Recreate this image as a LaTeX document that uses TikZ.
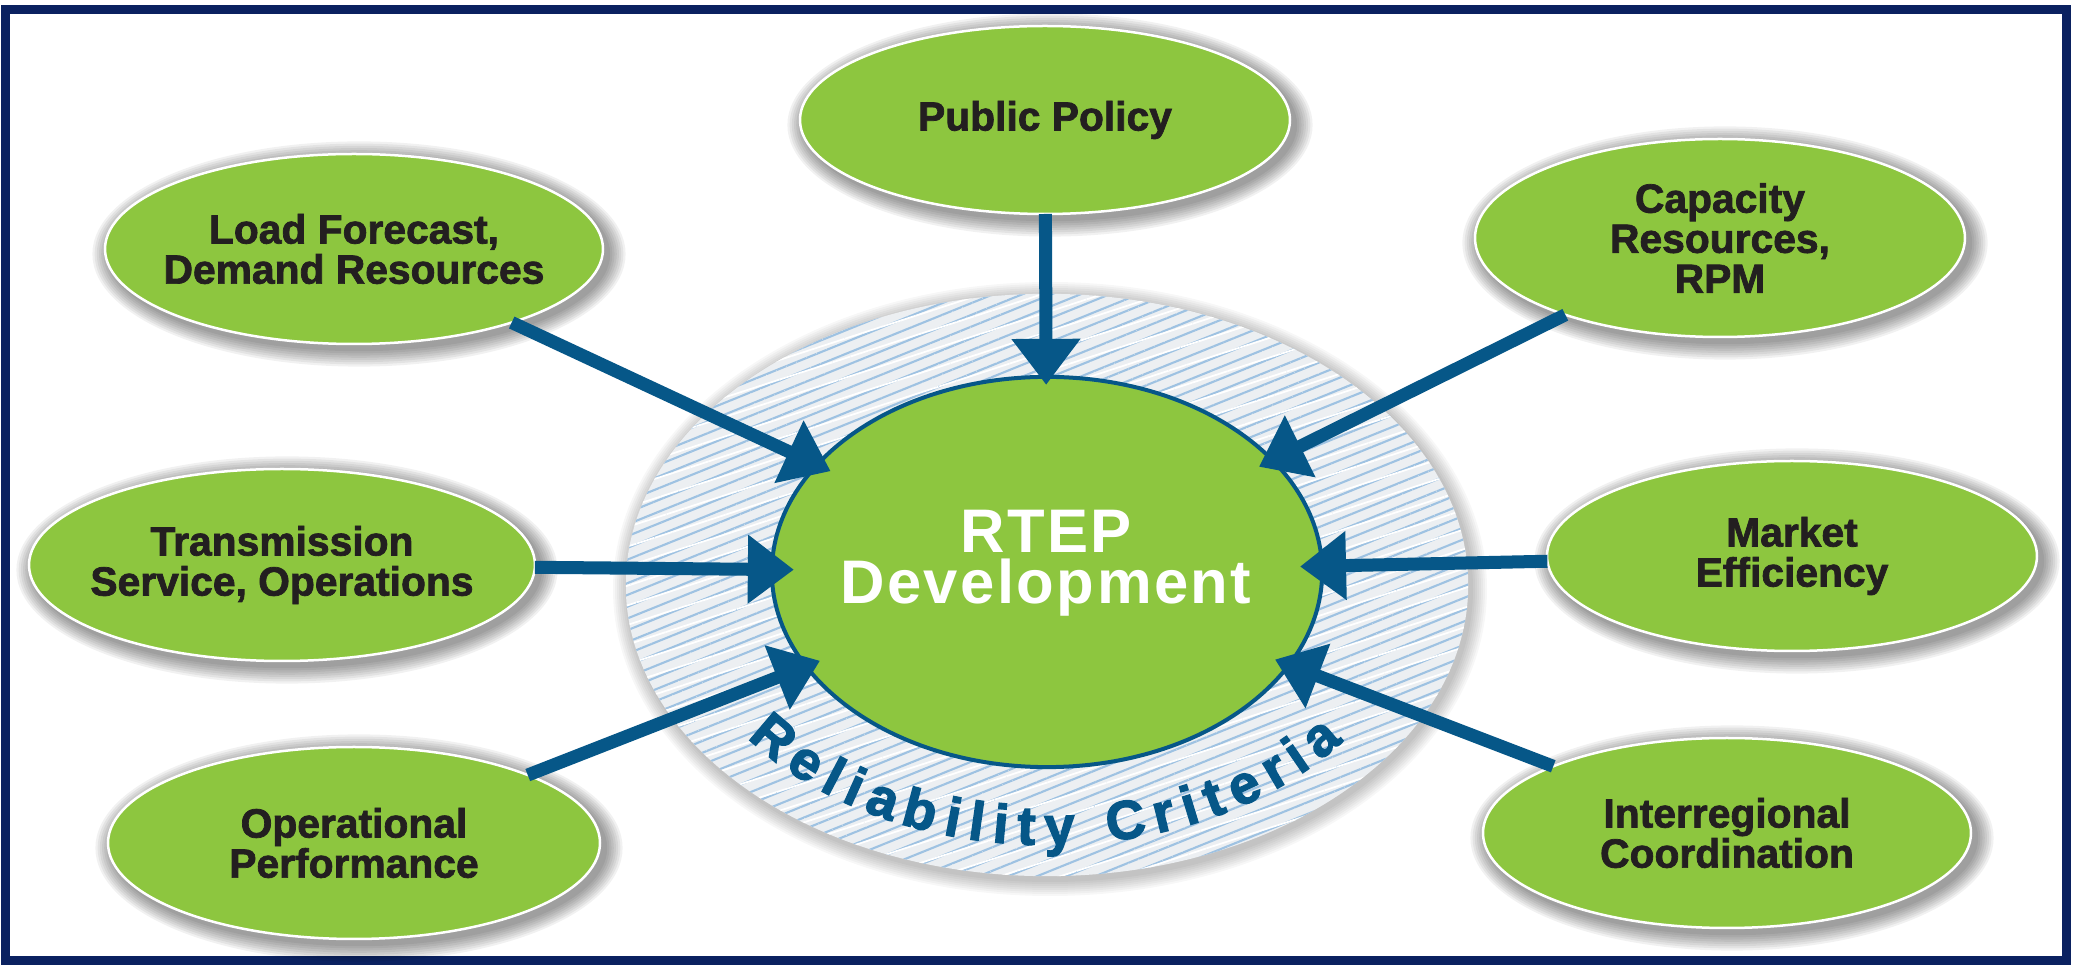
\documentclass[tikz,border=0pt]{standalone}
\usepackage{fontspec}
\setmainfont{Liberation Sans}
\newfontfamily\labfam[BoldFeatures={FakeBold=1.8}]{Liberation Sans}
\newfontfamily\relfam[BoldFeatures={FakeBold=2.4}]{Liberation Sans}
\newfontfamily\rtepfam[LetterSpace=4]{Liberation Sans}
\usetikzlibrary{shapes.geometric, arrows.meta, patterns.meta}

\definecolor{leaf}{RGB}{141,198,63}
\definecolor{navy}{RGB}{10,33,96}
\definecolor{arrowblue}{RGB}{6,87,136}
\definecolor{ink}{RGB}{35,31,32}
\definecolor{hatch}{RGB}{158,194,226}
\definecolor{ringbg}{RGB}{236,239,242}

\newcommand\rtepfont{\rtepfam\fontsize{17.5}{14.5}\selectfont\bfseries}

\newcommand\mkbubble[6]{%
  \foreach \k in {1,...,8}{%
    \fill[black,opacity=0.055] ({#2+5},{#3-5}) ellipse [x radius={(#4+2.2*\k)*0.01cm}, y radius={(#5+2.2*\k)*0.01cm}];}
  \node[oval, minimum width={2*#4*0.01cm}, minimum height={2*#5*0.01cm}] (#1) at (#2,#3) {};
  \node[lab] (#1t) at (#1) {#6};
}

\begin{document}
\begin{tikzpicture}[x=0.01cm, y=0.01cm,
  oval/.style={ellipse, fill=leaf, draw=white, line width=0.025cm, inner sep=0pt, outer sep=0pt},
  lab/.style={align=center, text=ink, font=\labfam\fontsize{11.6}{11.4}\selectfont\bfseries, inner sep=0pt},
  arr/.style={color=arrowblue, line width=0.13cm, shorten >=-0.15cm, -{Triangle[length=0.46cm, width=0.66cm]}},
  hub/.style={ellipse, fill=leaf, draw=arrowblue, line width=0.04cm, inner sep=0pt, outer sep=0pt},
  rcl/.style={text=arrowblue, font=\relfam\fontsize{15.5}{15.5}\selectfont\bfseries, inner sep=0pt, anchor=base},
]
\useasboundingbox (0,0) rectangle (2074,966);
\fill[white] (0,0) rectangle (2074,966);

% frame
\draw[navy, line width=0.09cm] (5.5,5.5) rectangle (2066.5,956.5);

% hatched ring
\coordinate (rc) at (1047,381);
\foreach \k in {1,...,8}{%
  \fill[black,opacity=0.03] ([shift={(3,-4)}]rc) ellipse [x radius={(421+2*\k)*0.01cm}, y radius={(291+2*\k)*0.01cm}];}
\fill[ringbg] (rc) ellipse [x radius=4.21cm, y radius=2.91cm];
\fill[pattern={Lines[angle=22, distance=3.1pt, line width=0.6pt]}, pattern color=hatch] (rc) ellipse [x radius=4.21cm, y radius=2.91cm];
\fill[pattern={Lines[angle=18, distance=5.3pt, line width=0.5pt]}, pattern color=white] (rc) ellipse [x radius=4.21cm, y radius=2.91cm];

% centre
\node[hub, minimum width=5.5cm, minimum height=3.9cm] (rtep) at (1047,394) {};
\node[text=white, align=center, font=\rtepfont, inner sep=0pt] (rtept) at (1046,403) {RTEP\\Development};

% curved label, letter by letter along an ellipse round the centre
\foreach \ch/\t [count=\n] in {R/219.6, e/227.5, l/233.2, i/237.4, a/242.7, b/249.2, i/254.8, l/258.7, i/262.6, t/266.7, y/272.0, C/282.7, r/289.0, i/293.5, t/297.8, e/303.5, r/309.7, i/314.4, a/320.3}
  \node[rcl, rotate={atan2(260*cos(\t), -370*sin(\t))}] (rl\n) at ([shift={(\t:370 and 260)}]rc) {\ch};

% bubbles
\mkbubble{pp}{1045}{846}{245}{94}{Public Policy}
\mkbubble{lf}{354}{717}{249}{95}{Load Forecast,\\Demand Resources}
\mkbubble{cap}{1720}{728}{245}{99}{Capacity\\Resources,\\RPM}
\mkbubble{tr}{282}{401}{253}{96}{Transmission\\Service, Operations}
\mkbubble{me}{1792}{410}{245}{95}{Market\\Efficiency}
\mkbubble{op}{354}{123}{246}{96}{Operational\\Performance}
\mkbubble{ir}{1727}{133}{244}{95}{Interregional\\Coordination}

% arrows
\draw[arr, shorten >=-0.08cm] (pp) -- (rtep);
\draw[arr] (lf) -- (rtep);
\draw[arr] (cap) -- (rtep);
\draw[arr, shorten >=-0.22cm] (tr) -- (rtep);
\draw[arr, shorten >=-0.22cm] (me) -- (rtep);
\draw[arr] (op) -- (rtep);
\draw[arr] (ir) -- (rtep);
\end{tikzpicture}
\end{document}
